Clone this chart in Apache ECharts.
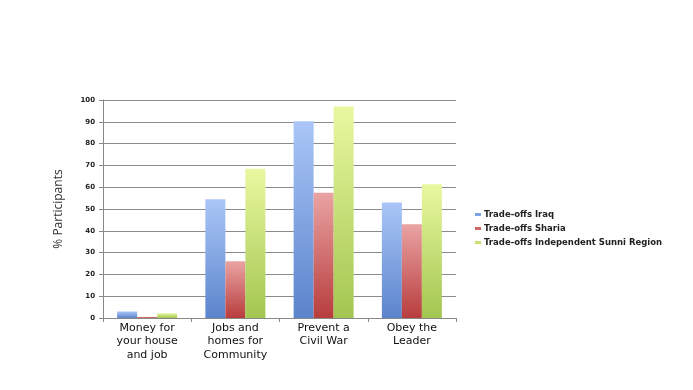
<!DOCTYPE html>
<html><head><meta charset="utf-8">
<script src="https://cdn.jsdelivr.net/npm/echarts@6/dist/echarts.min.js"></script>
<style>html,body{margin:0;padding:0;background:#fff}#c{width:693px;height:390px}</style>
</head><body><div id="c"></div>
<script>
var categories = ['Money for\nyour house\nand job', 'Jobs and\nhomes for\nCommunity', 'Prevent a\nCivil War', 'Obey the\nLeader'];
var seriesNames = ['Trade-offs Iraq', 'Trade-offs Sharia', 'Trade-offs Independent Sunni Region'];
var iraq = [3, 54.5, 90.2, 53];
var sharia = [0.5, 26, 57.5, 43];
var sunni = [2.2, 68.5, 97, 61.4];
var yTicks = [0, 10, 20, 30, 40, 50, 60, 70, 80, 90, 100];

function grad(top, bottom) {
  return new echarts.graphic.LinearGradient(0, 0, 0, 1, [{offset: 0, color: top}, {offset: 1, color: bottom}]);
}
var colors = [grad('#aac6f7', '#5b84cc'), grad('#eaa3a3', '#b83d3d'), grad('#e9f8a0', '#a3c650')];
var legendColors = ['#7fa3e3', '#d06868', '#c8e070'];
var data = [iraq, sharia, sunni];

var chart = echarts.init(document.getElementById('c'), null, {renderer: 'canvas'});
chart.setOption({
  animation: false,
  grid: {left: 103, right: 237, top: 100, bottom: 72},
  legend: {
    orient: 'vertical', left: 470, top: 205, itemWidth: 6, itemHeight: 3, itemGap: 5,
    icon: 'rect',
    textStyle: {fontSize: 8.5, color: '#222', fontFamily: 'DejaVu Sans', fontWeight: 'bold', padding: [0, 0, 0, -2]},
    data: seriesNames.map(function (n, i) { return {name: n, itemStyle: {color: legendColors[i]}}; })
  },
  xAxis: {
    type: 'category', data: categories,
    axisLine: {lineStyle: {color: '#888'}},
    axisTick: {show: true, length: 4, lineStyle: {color: '#888'}},
    axisLabel: {fontSize: 11, color: '#111', lineHeight: 13.5, margin: 3, fontFamily: 'DejaVu Sans', interval: 0}
  },
  yAxis: {
    type: 'value', min: 0, max: 100, interval: 10,
    name: '% Participants', nameLocation: 'middle', nameGap: 38,
    nameTextStyle: {fontSize: 12, color: '#333', fontFamily: 'Open Sans'},
    axisLine: {show: true, lineStyle: {color: '#888'}},
    axisTick: {show: true, length: 4, lineStyle: {color: '#888'}},
    splitLine: {lineStyle: {color: '#8a8a8a', width: 1}},
    axisLabel: {fontSize: 7, color: '#222', fontWeight: 'bold', margin: 8, fontFamily: 'DejaVu Sans',
      formatter: function (v) { return yTicks.indexOf(v) >= 0 ? String(v) : ''; }}
  },
  series: seriesNames.map(function (n, i) {
    return {name: n, type: 'bar', data: data[i], barWidth: 20, barGap: '0%',
      itemStyle: {color: colors[i]}};
  })
});
</script></body></html>
